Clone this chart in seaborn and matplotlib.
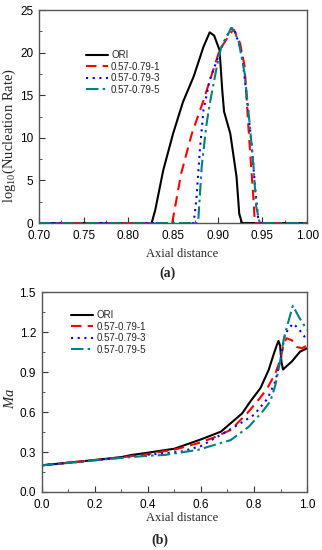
import numpy as np
import pandas as pd
import matplotlib
matplotlib.use('Agg')
import matplotlib.pyplot as plt
from matplotlib.ticker import MultipleLocator, FormatStrFormatter
import seaborn as sns

# ---- panel (a): log10 nucleation rate vs axial distance ----
ori_a_x = [0.70, 0.826, 0.830, 0.839, 0.850, 0.861, 0.873, 0.884, 0.891, 0.896, 0.902, 0.905, 0.907, 0.914, 0.921, 0.924, 0.927, 1.00]
ori_a_y = [0, 0, 1.5, 6.2, 10.5, 14.2, 17.2, 20.7, 22.4, 22.0, 20.3, 15.6, 13.1, 10.5, 5.4, 1.1, 0, 0]
c1_a_x = [0.70, 0.849, 0.859, 0.871, 0.884, 0.895, 0.902, 0.914, 0.918, 0.925, 0.930, 0.934, 0.936, 0.940, 0.9415, 1.00]
c1_a_y = [0, 0, 5.8, 10.5, 14.4, 18.0, 20.3, 22.3, 22.7, 21.1, 18.4, 11.7, 8.6, 2.7, 0, 0]
c3_a_x = [0.70, 0.873, 0.876, 0.880, 0.884, 0.891, 0.899, 0.906, 0.915, 0.919, 0.927, 0.932, 0.938, 0.942, 0.945, 0.948, 1.00]
c3_a_y = [0, 0, 2.7, 8.6, 13.3, 16.8, 19.1, 21.1, 22.9, 22.6, 19.9, 15.2, 9.0, 3.9, 0.7, 0, 0]
c5_a_x = [0.70, 0.878, 0.882, 0.887, 0.891, 0.899, 0.904, 0.914, 0.916, 0.923, 0.930, 0.936, 0.940, 0.943, 0.947, 1.00]
c5_a_y = [0, 0, 6.6, 11.3, 14.0, 18.4, 20.7, 22.7, 22.9, 21.5, 17.6, 11.3, 6.6, 1.9, 0, 0]

# ---- panel (b): Mach number vs axial distance ----
ori_b_x = [0, 0.1, 0.2, 0.3, 0.339, 0.4, 0.5, 0.6, 0.675, 0.755, 0.786, 0.824, 0.855, 0.873, 0.885, 0.892, 0.898, 0.903, 0.909, 0.925, 0.942, 0.973, 1.0]
ori_b_y = [0.200, 0.220, 0.240, 0.262, 0.278, 0.295, 0.325, 0.395, 0.453, 0.59, 0.68, 0.78, 0.917, 1.03, 1.10, 1.135, 1.10, 0.98, 0.92, 0.95, 0.98, 1.054, 1.08]
c1_b_x = [0, 0.1, 0.2, 0.3, 0.4, 0.5, 0.588, 0.65, 0.712, 0.774, 0.82, 0.85, 0.88, 0.9, 0.912, 0.923, 0.942, 0.960, 0.98, 1.0]
c1_b_y = [0.200, 0.220, 0.240, 0.260, 0.285, 0.318, 0.366, 0.41, 0.466, 0.591, 0.70, 0.78, 0.89, 1.0, 1.12, 1.155, 1.14, 1.09, 1.08, 1.10]
c3_b_x = [0, 0.1, 0.2, 0.3, 0.4, 0.526, 0.6, 0.662, 0.749, 0.8, 0.85, 0.88, 0.9, 0.915, 0.93, 0.948, 0.97, 1.0]
c3_b_y = [0.200, 0.218, 0.238, 0.258, 0.280, 0.303, 0.345, 0.415, 0.516, 0.58, 0.70, 0.83, 1.0, 1.17, 1.23, 1.265, 1.22, 1.14]
c5_b_x = [0, 0.1, 0.2, 0.3, 0.4, 0.463, 0.588, 0.712, 0.78, 0.83, 0.861, 0.880, 0.898, 0.911, 0.925, 0.946, 0.97, 1.0]
c5_b_y = [0.200, 0.218, 0.238, 0.256, 0.272, 0.278, 0.316, 0.39, 0.49, 0.60, 0.68, 0.80, 0.98, 1.14, 1.25, 1.40, 1.31, 1.217]

labels = ['ORI', '0.57-0.79-1', '0.57-0.79-3', '0.57-0.79-5']
colors = ['black', '#ff0000', '#0000ff', '#008080']
styles = ['-', (0, (5, 3)), (0, (1, 2.2)), (0, (6, 2, 1.2, 2))]

sns.set_theme(style='ticks')
plt.rcParams['font.family'] = ['Liberation Sans', 'DejaVu Sans']
plt.rcParams['mathtext.fontset'] = 'custom'
plt.rcParams['mathtext.rm'] = 'Liberation Serif'
plt.rcParams['mathtext.it'] = 'Liberation Serif:italic'
plt.rcParams['xtick.direction'] = 'in'
plt.rcParams['ytick.direction'] = 'in'

fig = plt.figure(figsize=(3.22, 5.5), dpi=100)
ax1 = fig.add_axes([0.121, 0.5945, 0.833, 0.387])
ax2 = fig.add_axes([0.129, 0.1055, 0.825, 0.363])

serif = {'family': 'Liberation Serif', 'size': 9}
serif_y = {'family': 'Liberation Serif', 'size': 10.5}

data_a = [(ori_a_x, ori_a_y), (c1_a_x, c1_a_y), (c3_a_x, c3_a_y), (c5_a_x, c5_a_y)]
data_b = [(ori_b_x, ori_b_y), (c1_b_x, c1_b_y), (c3_b_x, c3_b_y), (c5_b_x, c5_b_y)]

for (x, y), lab, c, ls in zip(data_a, labels, colors, styles):
    sns.lineplot(x=x, y=y, ax=ax1, color=c, linestyle=ls, linewidth=1.5, label=lab, sort=False)
for (x, y), lab, c, ls in zip(data_b, labels, colors, styles):
    sns.lineplot(x=x, y=y, ax=ax2, color=c, linestyle=ls, linewidth=1.5, label=lab, sort=False)

ax1.set_xlim(0.70, 1.00)
ax1.set_ylim(0, 25)
ax1.xaxis.set_major_locator(MultipleLocator(0.05))
ax1.xaxis.set_minor_locator(MultipleLocator(0.025))
ax1.yaxis.set_major_locator(MultipleLocator(5))
ax1.yaxis.set_minor_locator(MultipleLocator(2.5))
ax1.xaxis.set_major_formatter(FormatStrFormatter('%.2f'))
ax1.set_xlabel('Axial distance', fontdict=serif)
ax1.set_ylabel(r'log$_{10}$(Nucleation Rate)', fontdict=serif_y)
ax1.xaxis.set_label_coords(0.533, -0.117)
ax1.yaxis.set_label_coords(-0.08, 0.41)

ax2.set_xlim(0, 1.0)
ax2.set_ylim(0, 1.5)
ax2.xaxis.set_major_locator(MultipleLocator(0.2))
ax2.xaxis.set_minor_locator(MultipleLocator(0.1))
ax2.yaxis.set_major_locator(MultipleLocator(0.3))
ax2.yaxis.set_minor_locator(MultipleLocator(0.15))
ax2.xaxis.set_major_formatter(FormatStrFormatter('%.1f'))
ax2.yaxis.set_major_formatter(FormatStrFormatter('%.1f'))
ax2.set_xlabel('Axial distance', fontdict=serif)
ax2.set_ylabel(r'$Ma$', fontdict=serif_y)
ax2.xaxis.set_label_coords(0.53, -0.1)
ax2.yaxis.set_label_coords(-0.092, 0.47)

for ax in (ax1, ax2):
    ax.tick_params(which='major', length=4, width=0.8, labelsize=8.5, pad=4,
                   top=False, right=False, colors='#333333', labelcolor='black')
    ax.tick_params(which='minor', length=2, width=0.6, top=False, right=False, colors='#333333')
    ax.tick_params(axis='x', which='major', pad=5)
    for s in ax.spines.values():
        s.set_color('#555555')
        s.set_linewidth(1.0)

ax1.legend(loc='upper left', bbox_to_anchor=(0.16, 0.83), frameon=False, fontsize=7,
           handlelength=2.3, handletextpad=0.3, labelspacing=0.15, borderaxespad=0)
ax2.legend(loc='upper left', bbox_to_anchor=(0.096, 0.93), frameon=False, fontsize=7,
           handlelength=2.3, handletextpad=0.3, labelspacing=0.15, borderaxespad=0)

fig.text(0.52, 1 - 273 / 550, '(a)', ha='center', va='center',
         fontdict={'family': 'Liberation Serif', 'size': 10, 'weight': 'bold'})
fig.text(0.497, 1 - 540 / 550, '(b)', ha='center', va='center',
         fontdict={'family': 'Liberation Serif', 'size': 10, 'weight': 'bold'})

fig.savefig('out.png', dpi=100)
